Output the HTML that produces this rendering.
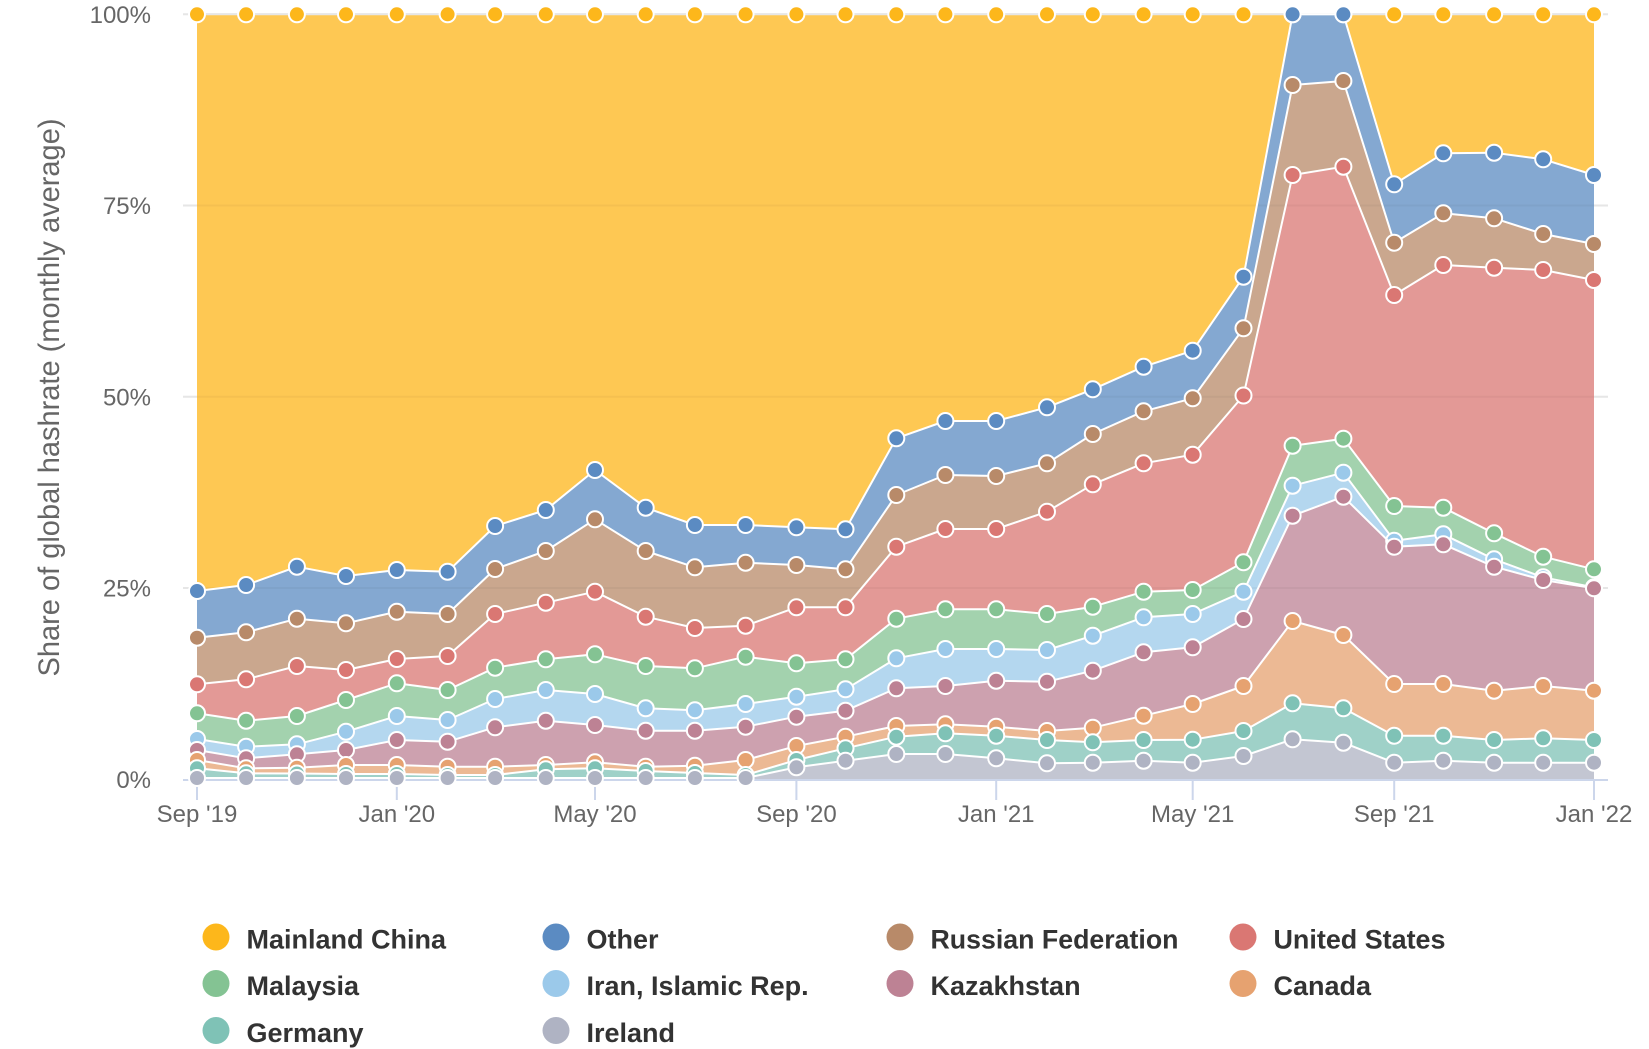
<!DOCTYPE html>
<html>
<head>
<meta charset="utf-8">
<style>
  html, body { margin: 0; padding: 0; background: #ffffff; }
  svg { display: block; }
  text { font-family: "Liberation Sans", Arial, sans-serif; }
</style>
</head>
<body>
<svg width="1649" height="1049" viewBox="0 0 1649 1049" xmlns="http://www.w3.org/2000/svg">
  <defs>
    <marker id="mCh" markerUnits="userSpaceOnUse" markerWidth="24" markerHeight="24" refX="12" refY="12" viewBox="0 0 24 24"><circle cx="12" cy="12" r="8" fill="#FDB71B" stroke="#fff" stroke-width="2"/></marker>
    <marker id="mO" markerUnits="userSpaceOnUse" markerWidth="24" markerHeight="24" refX="12" refY="12" viewBox="0 0 24 24"><circle cx="12" cy="12" r="8" fill="#5B8BC2" stroke="#fff" stroke-width="2"/></marker>
    <marker id="mR" markerUnits="userSpaceOnUse" markerWidth="24" markerHeight="24" refX="12" refY="12" viewBox="0 0 24 24"><circle cx="12" cy="12" r="8" fill="#B88A69" stroke="#fff" stroke-width="2"/></marker>
    <marker id="mU" markerUnits="userSpaceOnUse" markerWidth="24" markerHeight="24" refX="12" refY="12" viewBox="0 0 24 24"><circle cx="12" cy="12" r="8" fill="#DA7773" stroke="#fff" stroke-width="2"/></marker>
    <marker id="mM" markerUnits="userSpaceOnUse" markerWidth="24" markerHeight="24" refX="12" refY="12" viewBox="0 0 24 24"><circle cx="12" cy="12" r="8" fill="#84C393" stroke="#fff" stroke-width="2"/></marker>
    <marker id="mI" markerUnits="userSpaceOnUse" markerWidth="24" markerHeight="24" refX="12" refY="12" viewBox="0 0 24 24"><circle cx="12" cy="12" r="8" fill="#9BC9EA" stroke="#fff" stroke-width="2"/></marker>
    <marker id="mK" markerUnits="userSpaceOnUse" markerWidth="24" markerHeight="24" refX="12" refY="12" viewBox="0 0 24 24"><circle cx="12" cy="12" r="8" fill="#BD8294" stroke="#fff" stroke-width="2"/></marker>
    <marker id="mC" markerUnits="userSpaceOnUse" markerWidth="24" markerHeight="24" refX="12" refY="12" viewBox="0 0 24 24"><circle cx="12" cy="12" r="8" fill="#E6A270" stroke="#fff" stroke-width="2"/></marker>
    <marker id="mG" markerUnits="userSpaceOnUse" markerWidth="24" markerHeight="24" refX="12" refY="12" viewBox="0 0 24 24"><circle cx="12" cy="12" r="8" fill="#7FC2B6" stroke="#fff" stroke-width="2"/></marker>
    <marker id="mIr" markerUnits="userSpaceOnUse" markerWidth="24" markerHeight="24" refX="12" refY="12" viewBox="0 0 24 24"><circle cx="12" cy="12" r="8" fill="#AFB3C3" stroke="#fff" stroke-width="2"/></marker>
  </defs>

  <!-- gridlines -->
  <g stroke="#e6e6e6" stroke-width="2">
    <line x1="183" y1="14.3" x2="1608" y2="14.3"/>
    <line x1="183" y1="205.5" x2="1608" y2="205.5"/>
    <line x1="183" y1="396.8" x2="1608" y2="396.8"/>
    <line x1="183" y1="588" x2="1608" y2="588"/>
  </g>

  <!-- areas -->
  <polygon fill="#FEC853" points="197,14.3 1594,14.3 1594,779.3 197,779.3"/>
  <polygon fill="#84A8D1" points="197,591 246.1,585 296.9,566.7 346,576 396.8,570 447.6,571.7 495.1,526 545.8,510 595,470 645.7,507.7 694.9,525 745.6,525 796.4,527.3 845.5,529.3 896.3,438.3 945.4,421 996.2,421 1047,407.3 1092.8,389.3 1143.6,366.7 1192.7,350.7 1243.5,276.7 1292.6,14.3 1343.4,14.3 1394.2,184.3 1443.3,153.3 1494.1,152.7 1543.2,159.3 1594,175 1594,779.3 197,779.3"/>
  <polygon fill="#CAA78E" points="197,637.7 246.1,632.3 296.9,618.7 346,623.3 396.8,611.7 447.6,614 495.1,569 545.8,551 595,519.3 645.7,551 694.9,567.3 745.6,562.7 796.4,565 845.5,569.3 896.3,495 945.4,475 996.2,476 1047,463.3 1092.8,434 1143.6,411.3 1192.7,398.3 1243.5,328.3 1292.6,85 1343.4,81 1394.2,242.7 1443.3,213.3 1494.1,218.3 1543.2,234 1594,244 1594,779.3 197,779.3"/>
  <polygon fill="#E39996" points="197,684.3 246.1,679.3 296.9,666 346,670 396.8,659 447.6,656 495.1,614 545.8,602.7 595,591.7 645.7,616.7 694.9,628 745.6,625.7 796.4,607.3 845.5,607.3 896.3,546.7 945.4,529 996.2,529 1047,511.7 1092.8,484.3 1143.6,463.3 1192.7,454.7 1243.5,395.5 1292.6,175 1343.4,166.7 1394.2,295 1443.3,265 1494.1,267.7 1543.2,270 1594,280 1594,779.3 197,779.3"/>
  <polygon fill="#A3D2AE" points="197,713.3 246.1,720.7 296.9,716 346,700 396.8,683.3 447.6,690 495.1,667.7 545.8,659.3 595,654.3 645.7,666 694.9,668.3 745.6,656.7 796.4,663.3 845.5,659.3 896.3,618.7 945.4,609.3 996.2,609.3 1047,614 1092.8,606.7 1143.6,591.7 1192.7,590 1243.5,562.3 1292.6,445.7 1343.4,438.7 1394.2,506 1443.3,507.7 1494.1,533.3 1543.2,556.7 1594,569.3 1594,779.3 197,779.3"/>
  <polygon fill="#B4D7EF" points="197,739 246.1,746.7 296.9,744.3 346,731.7 396.8,716 447.6,720 495.1,699 545.8,690 595,694 645.7,708.3 694.9,710.3 745.6,704 796.4,696.7 845.5,689.3 896.3,658.3 945.4,649 996.2,649 1047,650 1092.8,635.7 1143.6,617.3 1192.7,614 1243.5,591.7 1292.6,485.7 1343.4,472.7 1394.2,540.7 1443.3,534.3 1494.1,559.3 1543.2,577.3 1594,587.3 1594,779.3 197,779.3"/>
  <polygon fill="#CDA1AF" points="197,750 246.1,758.3 296.9,754.3 346,750 396.8,740 447.6,741.7 495.1,727.3 545.8,720.7 595,725 645.7,730.7 694.9,730.7 745.6,726.7 796.4,716.7 845.5,710.7 896.3,688.3 945.4,686 996.2,680.7 1047,681.7 1092.8,670.7 1143.6,652.3 1192.7,647.3 1243.5,619 1292.6,515.7 1343.4,496.7 1394.2,546.7 1443.3,544.3 1494.1,566.7 1543.2,580 1594,588.3 1594,779.3 197,779.3"/>
  <polygon fill="#ECB994" points="197,760 246.1,768.3 296.9,767.7 346,765 396.8,765 447.6,766.7 495.1,766.7 545.8,765 595,762.3 645.7,766.7 694.9,765.7 745.6,760 796.4,746 845.5,736.7 896.3,726 945.4,724.3 996.2,726.7 1047,731 1092.8,727.7 1143.6,715.7 1192.7,704 1243.5,686 1292.6,621 1343.4,635 1394.2,684 1443.3,684 1494.1,690.7 1543.2,686 1594,690.7 1594,779.3 197,779.3"/>
  <polygon fill="#9FD1C8" points="197,768.3 246.1,773.3 296.9,773.5 346,774 396.8,774 447.6,775 495.1,775 545.8,769.3 595,768.3 645.7,771 694.9,773 745.6,775 796.4,760 845.5,748.3 896.3,736.7 945.4,733.3 996.2,735.7 1047,740 1092.8,742.3 1143.6,740 1192.7,739.7 1243.5,731 1292.6,703.3 1343.4,708.3 1394.2,735.7 1443.3,735.7 1494.1,740 1543.2,738.3 1594,740 1594,779.3 197,779.3"/>
  <polygon fill="#C3C6D2" points="197,778 246.1,778 296.9,778 346,778 396.8,778 447.6,778 495.1,778 545.8,778 595,778 645.7,778 694.9,778 745.6,778 796.4,767.3 845.5,760.7 896.3,754 945.4,754 996.2,758.3 1047,763.3 1092.8,762.7 1143.6,760.7 1192.7,762.7 1243.5,756 1292.6,739.3 1343.4,742.7 1394.2,762.7 1443.3,760.7 1494.1,762.7 1543.2,762.7 1594,762.7 1594,779.3 197,779.3"/>

  <!-- faint gridlines showing through areas -->
  <g stroke="#000" stroke-opacity="0.035" stroke-width="2">
    <line x1="197" y1="205.5" x2="1594" y2="205.5"/>
    <line x1="197" y1="396.8" x2="1594" y2="396.8"/>
    <line x1="197" y1="588" x2="1594" y2="588"/>
  </g>

  <!-- x axis line -->
  <line x1="183" y1="780" x2="1608" y2="780" stroke="#ccd6eb" stroke-width="2"/>
  <g stroke="#ccd6eb" stroke-width="2">
    <line x1="197" y1="780" x2="197" y2="800"/>
    <line x1="396.8" y1="780" x2="396.8" y2="800"/>
    <line x1="595" y1="780" x2="595" y2="800"/>
    <line x1="796.4" y1="780" x2="796.4" y2="800"/>
    <line x1="996.2" y1="780" x2="996.2" y2="800"/>
    <line x1="1192.7" y1="780" x2="1192.7" y2="800"/>
    <line x1="1394.2" y1="780" x2="1394.2" y2="800"/>
    <line x1="1594" y1="780" x2="1594" y2="800"/>
  </g>

  <!-- series lines + markers -->
  <g fill="none" stroke-width="2" stroke-linejoin="round">
    <polyline stroke="#e6e6e6" marker-start="url(#mCh)" marker-mid="url(#mCh)" marker-end="url(#mCh)" points="197,14.3 246.1,14.3 296.9,14.3 346,14.3 396.8,14.3 447.6,14.3 495.1,14.3 545.8,14.3 595,14.3 645.7,14.3 694.9,14.3 745.6,14.3 796.4,14.3 845.5,14.3 896.3,14.3 945.4,14.3 996.2,14.3 1047,14.3 1092.8,14.3 1143.6,14.3 1192.7,14.3 1243.5,14.3 1292.6,14.3 1343.4,14.3 1394.2,14.3 1443.3,14.3 1494.1,14.3 1543.2,14.3 1594,14.3"/>
    <polyline stroke="#ffffff" marker-start="url(#mO)" marker-mid="url(#mO)" marker-end="url(#mO)" points="197,591 246.1,585 296.9,566.7 346,576 396.8,570 447.6,571.7 495.1,526 545.8,510 595,470 645.7,507.7 694.9,525 745.6,525 796.4,527.3 845.5,529.3 896.3,438.3 945.4,421 996.2,421 1047,407.3 1092.8,389.3 1143.6,366.7 1192.7,350.7 1243.5,276.7 1292.6,14.3 1343.4,14.3 1394.2,184.3 1443.3,153.3 1494.1,152.7 1543.2,159.3 1594,175"/>
    <polyline stroke="#ffffff" marker-start="url(#mR)" marker-mid="url(#mR)" marker-end="url(#mR)" points="197,637.7 246.1,632.3 296.9,618.7 346,623.3 396.8,611.7 447.6,614 495.1,569 545.8,551 595,519.3 645.7,551 694.9,567.3 745.6,562.7 796.4,565 845.5,569.3 896.3,495 945.4,475 996.2,476 1047,463.3 1092.8,434 1143.6,411.3 1192.7,398.3 1243.5,328.3 1292.6,85 1343.4,81 1394.2,242.7 1443.3,213.3 1494.1,218.3 1543.2,234 1594,244"/>
    <polyline stroke="#ffffff" marker-start="url(#mU)" marker-mid="url(#mU)" marker-end="url(#mU)" points="197,684.3 246.1,679.3 296.9,666 346,670 396.8,659 447.6,656 495.1,614 545.8,602.7 595,591.7 645.7,616.7 694.9,628 745.6,625.7 796.4,607.3 845.5,607.3 896.3,546.7 945.4,529 996.2,529 1047,511.7 1092.8,484.3 1143.6,463.3 1192.7,454.7 1243.5,395.5 1292.6,175 1343.4,166.7 1394.2,295 1443.3,265 1494.1,267.7 1543.2,270 1594,280"/>
    <polyline stroke="#ffffff" marker-start="url(#mM)" marker-mid="url(#mM)" marker-end="url(#mM)" points="197,713.3 246.1,720.7 296.9,716 346,700 396.8,683.3 447.6,690 495.1,667.7 545.8,659.3 595,654.3 645.7,666 694.9,668.3 745.6,656.7 796.4,663.3 845.5,659.3 896.3,618.7 945.4,609.3 996.2,609.3 1047,614 1092.8,606.7 1143.6,591.7 1192.7,590 1243.5,562.3 1292.6,445.7 1343.4,438.7 1394.2,506 1443.3,507.7 1494.1,533.3 1543.2,556.7 1594,569.3"/>
    <polyline stroke="#ffffff" marker-start="url(#mI)" marker-mid="url(#mI)" marker-end="url(#mI)" points="197,739 246.1,746.7 296.9,744.3 346,731.7 396.8,716 447.6,720 495.1,699 545.8,690 595,694 645.7,708.3 694.9,710.3 745.6,704 796.4,696.7 845.5,689.3 896.3,658.3 945.4,649 996.2,649 1047,650 1092.8,635.7 1143.6,617.3 1192.7,614 1243.5,591.7 1292.6,485.7 1343.4,472.7 1394.2,540.7 1443.3,534.3 1494.1,559.3 1543.2,577.3 1594,587.3"/>
    <polyline stroke="#ffffff" marker-start="url(#mK)" marker-mid="url(#mK)" marker-end="url(#mK)" points="197,750 246.1,758.3 296.9,754.3 346,750 396.8,740 447.6,741.7 495.1,727.3 545.8,720.7 595,725 645.7,730.7 694.9,730.7 745.6,726.7 796.4,716.7 845.5,710.7 896.3,688.3 945.4,686 996.2,680.7 1047,681.7 1092.8,670.7 1143.6,652.3 1192.7,647.3 1243.5,619 1292.6,515.7 1343.4,496.7 1394.2,546.7 1443.3,544.3 1494.1,566.7 1543.2,580 1594,588.3"/>
    <polyline stroke="#ffffff" marker-start="url(#mC)" marker-mid="url(#mC)" marker-end="url(#mC)" points="197,760 246.1,768.3 296.9,767.7 346,765 396.8,765 447.6,766.7 495.1,766.7 545.8,765 595,762.3 645.7,766.7 694.9,765.7 745.6,760 796.4,746 845.5,736.7 896.3,726 945.4,724.3 996.2,726.7 1047,731 1092.8,727.7 1143.6,715.7 1192.7,704 1243.5,686 1292.6,621 1343.4,635 1394.2,684 1443.3,684 1494.1,690.7 1543.2,686 1594,690.7"/>
    <polyline stroke="#ffffff" marker-start="url(#mG)" marker-mid="url(#mG)" marker-end="url(#mG)" points="197,768.3 246.1,773.3 296.9,773.5 346,774 396.8,774 447.6,775 495.1,775 545.8,769.3 595,768.3 645.7,771 694.9,773 745.6,775 796.4,760 845.5,748.3 896.3,736.7 945.4,733.3 996.2,735.7 1047,740 1092.8,742.3 1143.6,740 1192.7,739.7 1243.5,731 1292.6,703.3 1343.4,708.3 1394.2,735.7 1443.3,735.7 1494.1,740 1543.2,738.3 1594,740"/>
    <polyline stroke="#ffffff" marker-start="url(#mIr)" marker-mid="url(#mIr)" marker-end="url(#mIr)" points="197,778 246.1,778 296.9,778 346,778 396.8,778 447.6,778 495.1,778 545.8,778 595,778 645.7,778 694.9,778 745.6,778 796.4,767.3 845.5,760.7 896.3,754 945.4,754 996.2,758.3 1047,763.3 1092.8,762.7 1143.6,760.7 1192.7,762.7 1243.5,756 1292.6,739.3 1343.4,742.7 1394.2,762.7 1443.3,760.7 1494.1,762.7 1543.2,762.7 1594,762.7"/>
  </g>

  <!-- y axis labels -->
  <g font-size="24" fill="#666666" text-anchor="end">
    <text x="151" y="22.8">100%</text>
    <text x="151" y="214">75%</text>
    <text x="151" y="405.3">50%</text>
    <text x="151" y="596.5">25%</text>
    <text x="151" y="788">0%</text>
  </g>

  <!-- y axis title -->
  <text transform="translate(59,397.5) rotate(-90)" text-anchor="middle" font-size="30" fill="#666666" textLength="558" lengthAdjust="spacingAndGlyphs">Share of global hashrate (monthly average)</text>

  <!-- x axis labels -->
  <g font-size="24" fill="#666666" text-anchor="middle">
    <text x="197" y="822">Sep '19</text>
    <text x="396.8" y="822">Jan '20</text>
    <text x="595" y="822">May '20</text>
    <text x="796.4" y="822">Sep '20</text>
    <text x="996.2" y="822">Jan '21</text>
    <text x="1192.7" y="822">May '21</text>
    <text x="1394.2" y="822">Sep '21</text>
    <text x="1594" y="822">Jan '22</text>
  </g>

  <!-- legend -->
  <g>
    <circle cx="216" cy="937" r="13.5" fill="#FDB71B"/>
    <circle cx="556" cy="937" r="13.5" fill="#5B8BC2"/>
    <circle cx="900" cy="937" r="13.5" fill="#B88A69"/>
    <circle cx="1243" cy="937" r="13.5" fill="#DA7773"/>
    <circle cx="216" cy="983.5" r="13.5" fill="#84C393"/>
    <circle cx="556" cy="983.5" r="13.5" fill="#9BC9EA"/>
    <circle cx="900" cy="983.5" r="13.5" fill="#BD8294"/>
    <circle cx="1243" cy="983.5" r="13.5" fill="#E6A270"/>
    <circle cx="216" cy="1030.5" r="13.5" fill="#7FC2B6"/>
    <circle cx="556" cy="1030.5" r="13.5" fill="#AFB3C3"/>
  </g>
  <g font-size="27" font-weight="bold" fill="#333333">
    <text x="246.5" y="948.5">Mainland China</text>
    <text x="586.5" y="948.5">Other</text>
    <text x="930.5" y="948.5" textLength="248" lengthAdjust="spacingAndGlyphs">Russian Federation</text>
    <text x="1273.5" y="948.5" textLength="172" lengthAdjust="spacingAndGlyphs">United States</text>
    <text x="246.5" y="995">Malaysia</text>
    <text x="586.5" y="995">Iran, Islamic Rep.</text>
    <text x="930.5" y="995">Kazakhstan</text>
    <text x="1273.5" y="995">Canada</text>
    <text x="246.5" y="1042">Germany</text>
    <text x="586.5" y="1042">Ireland</text>
  </g>
</svg>
</body>
</html>
